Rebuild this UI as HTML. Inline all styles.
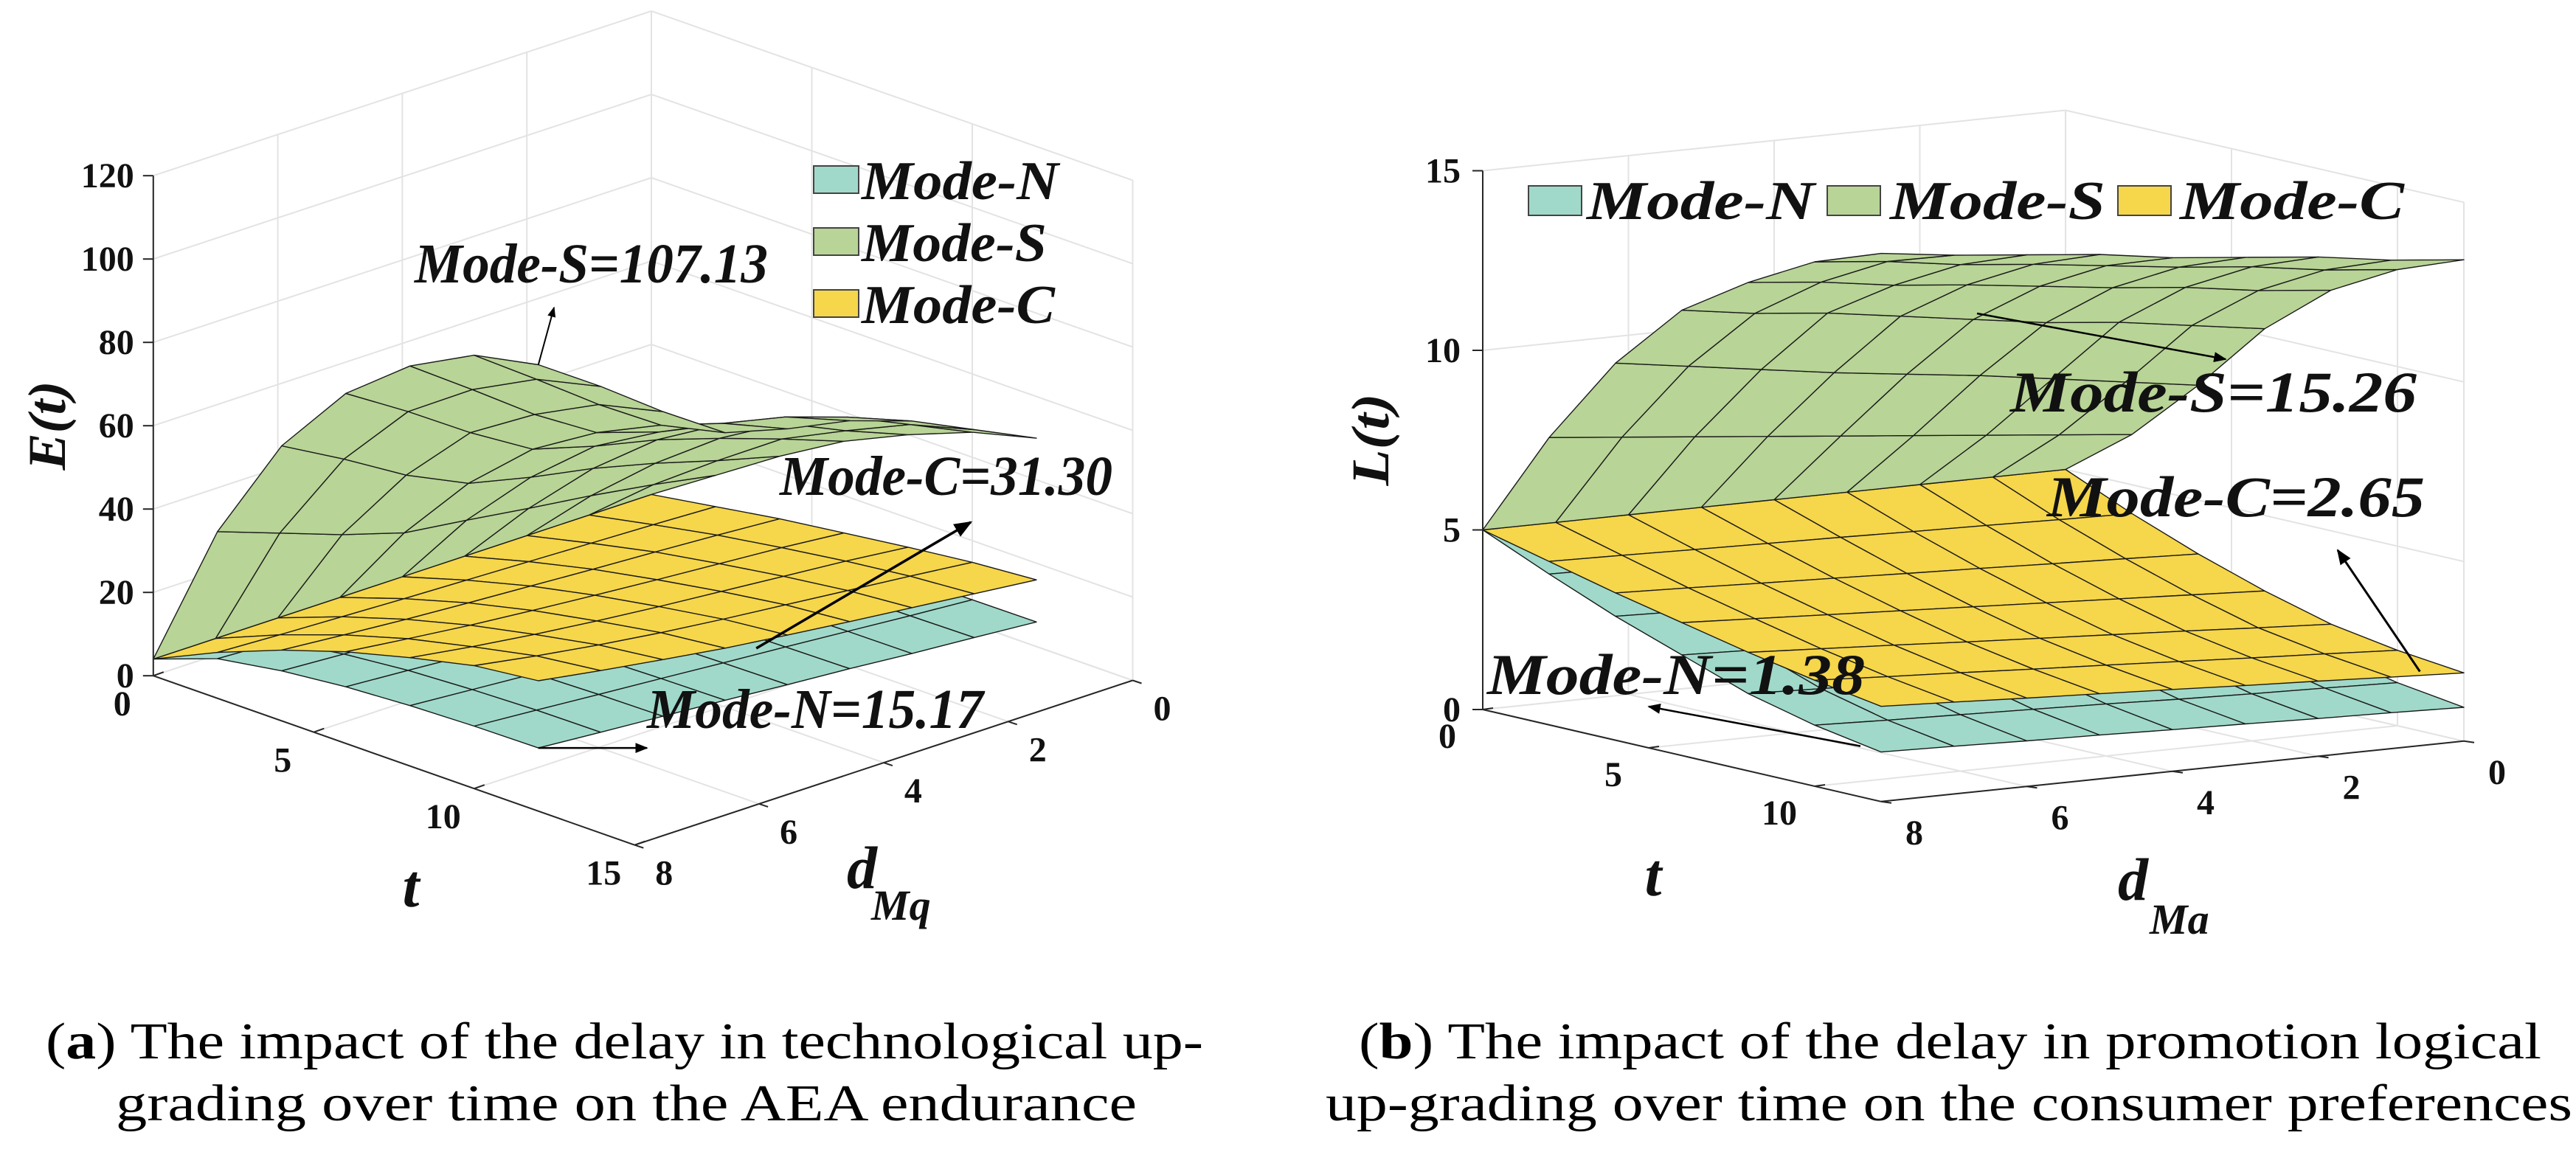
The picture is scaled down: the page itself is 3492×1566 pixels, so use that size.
<!DOCTYPE html>
<html><head><meta charset="utf-8"><style>
html,body{margin:0;padding:0;background:#fff;}
svg{display:block;}
</style></head><body>
<svg id="fig" width="3492" height="1566" viewBox="0 0 3492 1566" xmlns="http://www.w3.org/2000/svg" font-family="'Liberation Serif', serif">
<defs>
<marker id="ah" viewBox="0 0 10 10" refX="9" refY="5" markerWidth="7" markerHeight="7" orient="auto-start-reverse"><path d="M0,1 L10,5 L0,9 z" fill="#000"/></marker>
</defs>
<g id="chartA"></g>
<g id="chartB"></g>
<g font-size="70" fill="#000">
<text x="62" y="1435" textLength="1569" lengthAdjust="spacingAndGlyphs">(<tspan font-weight="bold">a</tspan>) The impact of the delay in technological up-</text>
<text x="157" y="1519" textLength="1384" lengthAdjust="spacingAndGlyphs">grading over time on the AEA endurance</text>
</g>
<g font-size="70" fill="#000">
<text x="1842" y="1435" textLength="1603" lengthAdjust="spacingAndGlyphs">(<tspan font-weight="bold">b</tspan>) The impact of the delay in promotion logical</text>
<text x="1797" y="1519" textLength="1690" lengthAdjust="spacingAndGlyphs">up-grading over time on the consumer preferences</text>
</g>
</svg>
<script>
// ---------- data ----------
const tGrid = [0, 2, 4, 6, 8, 10, 12];
const dGrid = [0, 1, 2, 3, 4, 5, 6, 7, 8];
const zTicksA = [0, 20, 40, 60, 80, 100, 120];
const tTicksA = [0, 5, 10, 15];
const dTicksA = [0, 2, 4, 6, 8];
const zTicksB = [0, 5, 10, 15];
const tTicksB = [0, 5, 10];
const dTicksB = [0, 2, 4, 6, 8];
// rows = d 0..8, columns = t 0..12
const modeN_A = [
[4,4.5,5.0,5.3,5.6,5.8,5.9],[4,5.1,5.9,6.4,6.7,6.9,7.1],[4,5.7,6.8,7.4,7.9,8.1,8.2],
[4,6.3,7.6,8.4,9.0,9.3,9.5],[4,6.9,8.5,9.5,10.1,10.4,10.6],[4,7.5,9.4,10.5,11.2,11.6,11.8],
[4,8.2,10.3,11.5,12.3,12.7,12.9],[4,8.8,11.1,12.6,13.4,13.9,14.0],[4,9.5,12.0,13.6,14.5,15.0,15.17]];
const modeC_A = [
[4,6.5,9.0,11.0,13.0,14.8,16.0],[4,7.1,10.0,12.4,14.6,16.4,17.6],[4,7.6,10.9,13.5,15.9,17.9,19.2],
[4,8.1,11.7,14.6,17.2,19.4,20.8],[4,8.6,12.6,15.8,18.5,20.9,22.5],[4,9.1,13.5,17.1,20.0,22.6,24.3],
[4,9.7,14.5,18.5,21.7,24.6,26.5],[4,10.3,15.7,20.2,23.7,26.9,28.8],[4,11.0,17.0,22.0,26.0,29.5,31.3]];
const modeS_A = [
[4,14,24,33,40,46,50],[4,16.7,27.9,38.5,45.9,52.8,57],[4,19,32.2,43.6,52.6,59.5,64],
[4,20.9,35.9,48.2,57.3,64.5,69],[4,23,38.7,51.6,60.4,67.9,72],[4,24.9,42.2,55.8,65.2,72.4,76],
[4,29.4,49.1,64.7,74.5,82.3,86],[4,34.7,57.9,74.7,85.4,93.3,97],[4,40,66,84,96,104,107.13]];
const modeN_B = [
[5,3.9,3.0,2.2,1.6,1.2,0.94],[5,3.94,3.06,2.28,1.67,1.26,1.0],[5,3.98,3.11,2.35,1.74,1.31,1.05],
[5,4.01,3.16,2.43,1.81,1.37,1.11],[5,4.05,3.22,2.5,1.88,1.45,1.16],[5,4.09,3.28,2.58,1.95,1.51,1.22],
[5,4.12,3.34,2.65,2.01,1.57,1.27],[5,4.16,3.39,2.73,2.08,1.63,1.33],[5,4.2,3.45,2.8,2.15,1.7,1.38]];
const modeC_B = [
[5,4.2,3.5,2.9,2.4,2.1,1.9],[5,4.24,3.58,3.0,2.51,2.21,1.99],[5,4.29,3.65,3.1,2.63,2.31,2.09],
[5,4.33,3.73,3.2,2.74,2.42,2.18],[5,4.38,3.8,3.3,2.85,2.53,2.28],[5,4.42,3.88,3.4,2.96,2.63,2.37],
[5,4.46,3.95,3.5,3.08,2.74,2.46],[5,4.51,4.03,3.6,3.19,2.84,2.56],[5,4.55,4.1,3.7,3.3,2.95,2.65]];
const modeS_B = [
[5,6.4,8.2,10.2,11.7,12.7,13.4],[5,6.6,8.5,10.5,11.9,12.9,13.6],[5,6.8,8.8,10.8,12.2,13.2,13.9],
[5,7.0,9.1,11.0,12.4,13.4,14.1],[5,7.2,9.35,11.3,12.65,13.65,14.3],[5,7.4,9.6,11.6,12.9,13.9,14.6],
[5,7.6,9.9,11.9,13.1,14.1,14.8],[5,7.8,10.2,12.1,13.4,14.4,15.0],[5,8.0,10.5,12.4,13.6,14.6,15.26]];
const modeColors = ['#a0d9c9', '#f6d64a', '#b8d496'];

// ---------- helpers ----------
const NS = 'http://www.w3.org/2000/svg';
function mk(tag, attrs, parent) {
  const e = document.createElementNS(NS, tag);
  for (const k in attrs) e.setAttribute(k, attrs[k]);
  parent.appendChild(e);
  return e;
}
function makeProj(O, tv, dv, zs) {
  return function (t, d, z) { return [O[0] + t * tv[0] + d * dv[0], O[1] + t * tv[1] + d * dv[1] - z * zs]; };
}
const projA = makeProj([883, 693], [43.5, 15.3], [-84.4, 27.9], 5.65);
const projB = makeProj([2800, 880], [45, 10.4], [-98.75, 10.25], 48.7);

function drawChart(g, P, tMax, zMax, zT, tT, dT, surfaces, names, tyv, dyv) {
  const grid = mk('g', {}, g);
  
  
  const gs = {stroke: '#e3e3e3', 'stroke-width': 2, fill: 'none'};
  function line(a, b, par, st) { return mk('line', Object.assign({x1: a[0], y1: a[1], x2: b[0], y2: b[1]}, st), par); }
  zT.forEach(z => { line(P(0, 8, z), P(0, 0, z), grid, gs); line(P(0, 0, z), P(tMax, 0, z), grid, gs); });
  dT.forEach(d => { line(P(0, d, 0), P(0, d, zMax), grid, gs); line(P(0, d, 0), P(tMax, d, 0), grid, gs); });
  tT.concat([tMax]).forEach(t => { line(P(t, 0, 0), P(t, 0, zMax), grid, gs); line(P(t, 0, 0), P(t, 8, 0), grid, gs); });
  const quads = [];
  surfaces.forEach((Z, si) => {
    for (let i = 0; i < dGrid.length - 1; i++) for (let j = 0; j < tGrid.length - 1; j++) {
      const tc = (tGrid[j] + tGrid[j + 1]) / 2, dc = (dGrid[i] + dGrid[i + 1]) / 2;
      quads.push({si, i, j, depth: tyv * tc + dyv * dc});
    }
  });
  quads.sort((a, b) => (a.depth - b.depth) || (a.si - b.si));
  const sg = mk('g', {}, g);
  
  
  quads.forEach(q => {
    const Z = surfaces[q.si], i = q.i, j = q.j;
    const pts = [P(tGrid[j], dGrid[i], Z[i][j]), P(tGrid[j + 1], dGrid[i], Z[i][j + 1]),
                 P(tGrid[j + 1], dGrid[i + 1], Z[i + 1][j + 1]), P(tGrid[j], dGrid[i + 1], Z[i + 1][j])];
    const p = mk('polygon', {points: pts.map(p => p[0].toFixed(1) + ',' + p[1].toFixed(1)).join(' '),
      fill: modeColors[q.si], stroke: '#1a1a1a', 'stroke-width': 1.4, 'stroke-linejoin': 'round'}, sg);
    
    
  });
  const ax = mk('g', {}, g);
  
  
  const as = {stroke: '#262626', 'stroke-width': 2};
  line(P(0, 8, 0), P(0, 8, zMax), ax, as);
  line(P(0, 8, 0), P(tMax, 8, 0), ax, as);
  line(P(tMax, 8, 0), P(tMax, 0, 0), ax, as);
  return ax;
}
function label(par, x, y, txt, size, name, anchor, extra) {
  const e = mk('text', Object.assign({x: x, y: y, 'font-size': size, 'font-weight': 'bold', 'text-anchor': anchor || 'middle', fill: '#111'}, extra || {}), par);
  e.textContent = txt;
  
  
  return e;
}
function arrow(par, x1, y1, x2, y2, w, name) {
  const l = mk('line', {x1: x1, y1: y1, x2: x2, y2: y2, stroke: '#000', 'stroke-width': w, 'marker-end': 'url(#ah)'}, par);
  
  
}

// ---------- chart A ----------
const gA = document.getElementById('chartA');
const axA = drawChart(gA, projA, 15, 120, zTicksA, tTicksA, dTicksA, [modeN_A, modeC_A, modeS_A], ['mode-n', 'mode-c', 'mode-s'], 15.3, 27.9);
(function () {
  const ax = axA;
  zTicksA.forEach(z => { const p = projA(0, 8, z);
    mk('line', {x1: p[0], y1: p[1], x2: p[0] - 14, y2: p[1], stroke: '#262626', 'stroke-width': 2}, ax);
    label(ax, p[0] - 26, p[1] + 16, String(z), 48, 'z-tick-label', 'end'); });
  tTicksA.forEach(t => { const p = projA(t, 8, 0);
    mk('line', {x1: p[0], y1: p[1], x2: p[0] + 14, y2: p[1] - 5, stroke: '#262626', 'stroke-width': 2}, ax);
    label(ax, p[0] - 42, p[1] + 54, String(t), 48, 't-tick-label'); });
  dTicksA.forEach(d => { const p = projA(15, d, 0);
    mk('line', {x1: p[0], y1: p[1], x2: p[0] + 12, y2: p[1] + 4, stroke: '#262626', 'stroke-width': 2}, ax);
    label(ax, p[0] + 40, p[1] + 54, String(d), 48, 'd-tick-label'); });
  label(gA, 0, 0, 'E(t)', 72, 'z-axis-title', 'middle', {'font-style': 'italic', transform: 'translate(88,577) rotate(-90)', textLength: 121, lengthAdjust: 'spacingAndGlyphs'});
  label(gA, 557, 1229, 't', 82, 't-axis-title', 'middle', {'font-style': 'italic'});
  label(gA, 1148, 1204, 'd', 82, 'd-axis-title', 'start', {'font-style': 'italic'});
  label(gA, 1181, 1247, 'Mq', 58, 'd-axis-subscript', 'start', {'font-style': 'italic'});
  const lg = mk('g', {}, gA);
  
  
  const legNames = ['Mode-N', 'Mode-S', 'Mode-C'], legCols = [modeColors[0], modeColors[2], modeColors[1]];
  const legY = [225, 309, 393], legW = [267, 251, 262];
  legNames.forEach((n, k) => {
    const r = mk('rect', {x: 1103, y: legY[k], width: 61, height: 37, fill: legCols[k], stroke: '#444', 'stroke-width': 2}, lg);
    
    
    label(lg, 1168, legY[k] + 45, n, 74, 'legend-entry', 'start', {'font-style': 'italic', textLength: legW[k], lengthAdjust: 'spacingAndGlyphs'});
  });
  label(gA, 562, 383, 'Mode-S=107.13', 76, 'annotation-mode-s', 'start', {'font-style': 'italic', textLength: 479, lengthAdjust: 'spacingAndGlyphs'});
  label(gA, 1057, 671, 'Mode-C=31.30', 76, 'annotation-mode-c', 'start', {'font-style': 'italic', textLength: 451, lengthAdjust: 'spacingAndGlyphs'});
  label(gA, 877, 987, 'Mode-N=15.17', 76, 'annotation-mode-n', 'start', {'font-style': 'italic', textLength: 456, lengthAdjust: 'spacingAndGlyphs'});
  const pS = projA(12, 8, 107.13), pC = projA(12, 4.5, 21.8), pN = projA(12, 8, 15.17);
  arrow(gA, pS[0], pS[1], 751, 417, 2, 'arrow-mode-s');
  arrow(gA, pC[0], pC[1], 1316, 708, 3.5, 'arrow-mode-c');
  arrow(gA, pN[0], pN[1], 877, pN[1], 2.5, 'arrow-mode-n');
})();

// ---------- chart B ----------
const gB = document.getElementById('chartB');
const axB = drawChart(gB, projB, 12, 15, zTicksB, tTicksB, dTicksB, [modeN_B, modeC_B, modeS_B], ['mode-n', 'mode-c', 'mode-s'], 10.4, 10.25);
(function () {
  const ax = axB;
  zTicksB.forEach(z => { const p = projB(0, 8, z);
    mk('line', {x1: p[0], y1: p[1], x2: p[0] - 14, y2: p[1], stroke: '#262626', 'stroke-width': 2}, ax);
    label(ax, p[0] - 30, p[1] + 16, String(z), 48, 'z-tick-label', 'end'); });
  tTicksB.forEach(t => { const p = projB(t, 8, 0);
    mk('line', {x1: p[0], y1: p[1], x2: p[0] + 14, y2: p[1] - 2, stroke: '#262626', 'stroke-width': 2}, ax);
    label(ax, p[0] - 48, p[1] + 52, String(t), 48, 't-tick-label'); });
  dTicksB.forEach(d => { const p = projB(12, d, 0);
    mk('line', {x1: p[0], y1: p[1], x2: p[0] + 14, y2: p[1] + 2, stroke: '#262626', 'stroke-width': 2}, ax);
    label(ax, p[0] + 45, p[1] + 58, String(d), 48, 'd-tick-label'); });
  label(gB, 0, 0, 'L(t)', 72, 'z-axis-title', 'middle', {'font-style': 'italic', transform: 'translate(1882,596) rotate(-90)', textLength: 125, lengthAdjust: 'spacingAndGlyphs'});
  label(gB, 2241, 1214, 't', 82, 't-axis-title', 'middle', {'font-style': 'italic'});
  label(gB, 2871, 1220, 'd', 82, 'd-axis-title', 'start', {'font-style': 'italic'});
  label(gB, 2914, 1266, 'Ma', 58, 'd-axis-subscript', 'start', {'font-style': 'italic'});
  const lg = mk('g', {}, gB);
  
  
  const legNames = ['Mode-N', 'Mode-S', 'Mode-C'], legCols = [modeColors[0], modeColors[2], modeColors[1]];
  const boxX = [2072, 2477, 2871], txtX = [2151, 2562, 2955], txtW = [309, 292, 304];
  legNames.forEach((n, k) => {
    const r = mk('rect', {x: boxX[k], y: 252, width: 72, height: 40, fill: legCols[k], stroke: '#444', 'stroke-width': 2}, lg);
    
    
    label(lg, txtX[k], 297, n, 74, 'legend-entry', 'start', {'font-style': 'italic', textLength: txtW[k], lengthAdjust: 'spacingAndGlyphs'});
  });
  label(gB, 2725, 558, 'Mode-S=15.26', 78, 'annotation-mode-s', 'start', {'font-style': 'italic', textLength: 551, lengthAdjust: 'spacingAndGlyphs'});
  label(gB, 2775, 700, 'Mode-C=2.65', 78, 'annotation-mode-c', 'start', {'font-style': 'italic', textLength: 512, lengthAdjust: 'spacingAndGlyphs'});
  label(gB, 2016, 941, 'Mode-N=1.38', 78, 'annotation-mode-n', 'start', {'font-style': 'italic', textLength: 512, lengthAdjust: 'spacingAndGlyphs'});
  arrow(gB, 2680, 425, 3017, 487, 2.5, 'arrow-mode-s');
  const pC = projB(12, 0.3, 2.0), pN = projB(12, 8, 1.38);
  arrow(gB, pC[0] - 30, pC[1], 3169, 746, 3, 'arrow-mode-c');
  arrow(gB, pN[0] - 28, pN[1] - 8, 2235, 958, 2.5, 'arrow-mode-n');
})();
</script>
</body></html>
